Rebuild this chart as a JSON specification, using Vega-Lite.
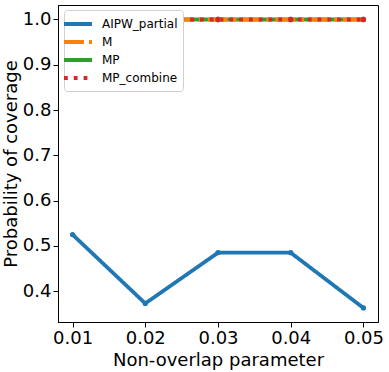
{
  "$schema": "https://vega.github.io/schema/vega-lite/v6.json",
  "autosize": {"type": "none"},
  "width": 320,
  "height": 317,
  "padding": {"left": 58, "top": 5, "right": 11, "bottom": 50},
  "background": "white",
  "data": {
    "values": [
      {"x": 0.01, "y": 0.525, "series": "AIPW_partial"},
      {"x": 0.02, "y": 0.373, "series": "AIPW_partial"},
      {"x": 0.03, "y": 0.485, "series": "AIPW_partial"},
      {"x": 0.04, "y": 0.485, "series": "AIPW_partial"},
      {"x": 0.05, "y": 0.363, "series": "AIPW_partial"},
      {"x": 0.01, "y": 1.0, "series": "MP"},
      {"x": 0.02, "y": 1.0, "series": "MP"},
      {"x": 0.03, "y": 1.0, "series": "MP"},
      {"x": 0.04, "y": 1.0, "series": "MP"},
      {"x": 0.05, "y": 1.0, "series": "MP"},
      {"x": 0.01, "y": 1.0, "series": "M"},
      {"x": 0.02, "y": 1.0, "series": "M"},
      {"x": 0.03, "y": 1.0, "series": "M"},
      {"x": 0.04, "y": 1.0, "series": "M"},
      {"x": 0.05, "y": 1.0, "series": "M"},
      {"x": 0.01, "y": 1.0, "series": "MP_combine"},
      {"x": 0.02, "y": 1.0, "series": "MP_combine"},
      {"x": 0.03, "y": 1.0, "series": "MP_combine"},
      {"x": 0.04, "y": 1.0, "series": "MP_combine"},
      {"x": 0.05, "y": 1.0, "series": "MP_combine"}
    ]
  },
  "mark": {"type": "line", "strokeWidth": 3.8, "strokeCap": "butt", "point": {"filled": true, "size": 28}},
  "encoding": {
    "x": {
      "field": "x", "type": "quantitative",
      "scale": {"domain": [0.008, 0.052], "nice": false, "zero": false},
      "axis": {"values": [0.01, 0.02, 0.03, 0.04, 0.05], "format": ".2f", "title": "Non-overlap parameter"}
    },
    "y": {
      "field": "y", "type": "quantitative",
      "scale": {"domain": [0.332, 1.032], "nice": false, "zero": false},
      "axis": {"values": [0.4, 0.5, 0.6, 0.7, 0.8, 0.9, 1.0], "format": ".1f", "title": "Probability of coverage"}
    },
    "color": {
      "field": "series", "type": "nominal",
      "scale": {"domain": ["AIPW_partial", "M", "MP", "MP_combine"], "range": ["#1f77b4", "#ff7f0e", "#2ca02c", "#d62728"]},
      "legend": {
        "title": null,
        "orient": "none",
        "legendX": 6,
        "legendY": 5,
        "symbolType": "M-2,0H2",
        "symbolSize": 196,
        "symbolStrokeWidth": 3.8,
        "labelFontSize": 12,
        "labelFont": "DejaVu Sans",
        "labelColor": "black",
        "labelOffset": 15,
        "rowPadding": 1,
        "padding": 5,
        "fillColor": "white",
        "strokeColor": "#d0d0d0",
        "cornerRadius": 3,
        "labelLimit": 300
      }
    },
    "strokeDash": {
      "field": "series", "type": "nominal",
      "scale": {"domain": ["AIPW_partial", "M", "MP", "MP_combine"], "range": [[1, 0], [20, 5, 3.8, 5], [1, 0], [3.8, 6]]},
      "legend": {
        "title": null,
        "orient": "none",
        "legendX": 6,
        "legendY": 5,
        "symbolType": "M-2,0H2",
        "symbolSize": 196,
        "symbolStrokeWidth": 3.8,
        "labelFontSize": 12,
        "labelFont": "DejaVu Sans",
        "labelColor": "black",
        "labelOffset": 15,
        "rowPadding": 1,
        "padding": 5,
        "fillColor": "white",
        "strokeColor": "#d0d0d0",
        "cornerRadius": 3,
        "labelLimit": 300
      }
    }
  },
  "config": {
    "font": "DejaVu Sans",
    "view": {"stroke": "black", "strokeWidth": 1},
    "axis": {
      "grid": false,
      "domainColor": "black",
      "tickColor": "black",
      "tickSize": 5,
      "labelFontSize": 18,
      "labelColor": "black",
      "labelFont": "DejaVu Sans",
      "titleFontSize": 18,
      "titleFont": "DejaVu Sans",
      "titleFontWeight": "normal",
      "titleColor": "black",
      "labelPadding": 2,
      "titlePadding": 4
    },
    "axisY": {"titlePadding": 2}
  }
}
